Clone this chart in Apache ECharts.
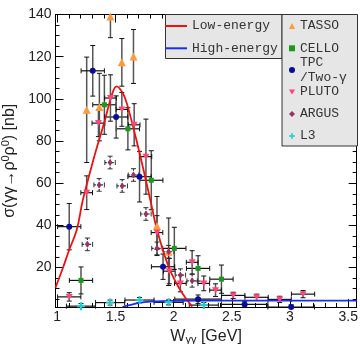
<!DOCTYPE html>
<html>
<head>
<meta charset="utf-8">
<script src="https://cdn.jsdelivr.net/npm/echarts@6/dist/echarts.min.js"></script>
<style>
  html, body { margin: 0; padding: 0; background: #fff; }
  #chart { width: 360px; height: 344px; }
</style>
</head>
<body>
<div id="chart"></div>
<script>
// each point: [W, sigma, dW, dSigma]
const tasso = [
  [1.253, 94.8, 0, 25], [1.362, 96.1, 0, 16], [1.457, 139, 0, 10],
  [1.555, 117.3, 0, 11.3], [1.655, 120.1, 0, 12.8], [1.857, 39.7, 0, 14],
  [1.957, 27.5, 0, 16]
];
const cello = [
  [1.204, 13.9, 0.1, 6.4], [1.405, 97.2, 0.1, 14], [1.607, 85.8, 0.1, 10],
  [1.808, 61.4, 0.1, 14], [2.006, 29.1, 0.1, 10], [2.21, 19.6, 0.1, 6],
  [2.411, 14.5, 0.1, 6.7]
];
const tpc = [
  [1.103, 39.4, 0.1, 11], [1.305, 113.3, 0.1, 12], [1.506, 91.4, 0.1, 10],
  [1.707, 63.1, 0.1, 12], [1.909, 20.4, 0.1, 6], [2.21, 5.0, 0.2, 2],
  [2.61, 2.5, 0.2, 1.5], [3.01, 1.3, 0.2, 1]
];
const pluto = [
  [1.103, 6.1, 0.1, 2], [1.253, 55.5, 0.05, 8], [1.354, 88.5, 0.055, 6.4],
  [1.457, 100.4, 0.05, 11], [1.555, 95.0, 0.05, 8], [1.661, 87.7, 0.05, 10],
  [1.762, 72.6, 0.05, 17.8], [1.857, 36.6, 0.05, 8], [1.963, 18.3, 0.05, 6],
  [2.058, 12.5, 0.05, 4], [2.159, 22.5, 0.05, 5.5], [2.259, 12.5, 0.05, 3.5],
  [2.36, 9.3, 0.05, 3], [2.512, 6.8, 0.1, 1.5], [2.713, 5.9, 0.1, 1.5],
  [2.911, 4.9, 0.1, 1.5], [3.112, 7.4, 0.1, 1.7]
];
const argus = [
  [1.259, 31.0, 0.045, 3], [1.36, 59.2, 0.045, 3], [1.454, 69.8, 0.045, 3],
  [1.558, 58.7, 0.045, 3], [1.655, 63.9, 0.045, 3], [1.762, 45.4, 0.045, 3],
  [1.857, 29.1, 0.045, 3], [1.957, 27.5, 0.045, 3], [2.058, 16.4, 0.045, 3],
  [2.159, 13.7, 0.045, 3]
];
const l3 = [
  [1.204, 1.7, 0.125, 1.2], [1.454, 3.4, 0.125, 1.2], [1.707, 4.6, 0.125, 1.2],
  [1.957, 3.5, 0.125, 1.2], [2.259, 2.2, 0.125, 1.2]
];

const lowEnergyW = [0.985, 1.05, 1.1, 1.167, 1.22, 1.31, 1.41, 1.47, 1.51, 1.56, 1.6, 1.7, 1.8, 1.857, 1.957, 2.05, 2.116, 2.16];
const lowEnergySigma = [10.5, 20, 28, 37.8, 52, 71, 90, 102, 105.9, 103, 97.5, 76, 52, 38, 20.4, 10, 4.6, 1.5];
const highEnergyW = [1.56, 1.6, 1.65, 1.7, 1.8, 1.9, 2.0, 2.2, 2.5, 3.0, 3.573];
const highEnergySigma = [1.3, 1.9, 2.6, 3.2, 3.8, 4.1, 4.2, 4.3, 4.3, 4.3, 4.3];

const xTicks = [1, 1.5, 2, 2.5, 3, 3.5];
const yTicks = [20, 40, 60, 80, 100, 120, 140];
const xMinorTicks = [];
for (let i = 10; i <= 35; i++) xMinorTicks.push(i / 10);
const yMinorTicks = [];
for (let v = 5; v <= 140; v += 5) yMinorTicks.push(v);

const xMin = 0.985, xMax = 3.573, yMin = 1.3, yMax = 140;

const sans = '"Liberation Sans", Arial, sans-serif';
const mono = '"Liberation Mono", "Courier New", monospace';

function errorBars(name, data, style) {
  return {
    type: 'custom',
    name: name + '-err',
    data: data,
    encode: { x: 0, y: 1 },
    z: 2,
    silent: true,
    renderItem: function (params, api) {
      const x = api.value(0), y = api.value(1);
      const dx = api.value(2), dy = api.value(3);
      const cy = v => Math.max(yMin, Math.min(yMax, v));
      const cx = v => Math.max(xMin, Math.min(xMax, v));
      const children = [];
      const cap = 2.5;
      if (dy > 0) {
        const top = api.coord([x, cy(y + dy)]);
        const bot = api.coord([x, cy(y - dy)]);
        const vs = { stroke: style.vColor, lineWidth: style.vWidth, lineDash: style.dash };
        children.push({ type: 'line', shape: { x1: top[0], y1: top[1], x2: bot[0], y2: bot[1] }, style: vs });
        if (y + dy < yMax) children.push({ type: 'line', shape: { x1: top[0] - cap, y1: top[1], x2: top[0] + cap, y2: top[1] }, style: { stroke: style.hColor, lineWidth: 1 } });
        if (y - dy > yMin) children.push({ type: 'line', shape: { x1: bot[0] - cap, y1: bot[1], x2: bot[0] + cap, y2: bot[1] }, style: { stroke: style.hColor, lineWidth: 1 } });
      }
      if (dx > 0 && y >= yMin && y <= yMax) {
        const l = api.coord([cx(x - dx), y]);
        const r = api.coord([cx(x + dx), y]);
        const hs = { stroke: style.hColor, lineWidth: style.hWidth, lineDash: style.dash };
        children.push({ type: 'line', shape: { x1: l[0], y1: l[1], x2: r[0], y2: r[1] }, style: hs });
        if (x - dx > xMin) children.push({ type: 'line', shape: { x1: l[0], y1: l[1] - cap, x2: l[0], y2: l[1] + cap }, style: { stroke: style.hColor, lineWidth: 1 } });
        if (x + dx < xMax) children.push({ type: 'line', shape: { x1: r[0], y1: r[1] - cap, x2: r[0], y2: r[1] + cap }, style: { stroke: style.hColor, lineWidth: 1 } });
      }
      return { type: 'group', children: children };
    }
  };
}

const solid = { vColor: '#555', vWidth: 1.5, hColor: '#111', hWidth: 1.2, dash: null };
const dotted = { vColor: '#333', vWidth: 1.2, hColor: '#333', hWidth: 1.2, dash: [2, 1.5] };

function points(name, data, symbol, size, color) {
  return {
    type: 'scatter',
    name: name,
    data: data.map(p => [p[0], p[1]]),
    symbol: symbol,
    symbolSize: size,
    itemStyle: { color: color, opacity: 1 },
    z: 4
  };
}

const downTriangle = 'path://M0,0L10,0L5,8.5Z';
const plus = 'path://M3,0H5V3H8V5H5V8H3V5H0V3H3Z';

const chart = echarts.init(document.getElementById('chart'), null, { renderer: 'canvas' });

const gridBox = { left: 55.5, right: 3.3, top: 14.5, bottom: 37, outerBoundsMode: 'none', containLabel: false };
const frame = { show: true, onZero: false, lineStyle: { color: '#000', width: 1 } };

function xAx(gridIndex, position, ticks, len, line) {
  return {
    type: 'value', gridIndex: gridIndex, position: position, min: xMin, max: xMax,
    axisLine: line ? frame : { show: false },
    axisTick: { show: true, inside: true, length: len, customValues: ticks, lineStyle: { color: '#000', width: 1 } },
    axisLabel: { show: false }, splitLine: { show: false }
  };
}
function yAx(gridIndex, position, ticks, len, line) {
  return {
    type: 'value', gridIndex: gridIndex, position: position, min: yMin, max: yMax,
    axisLine: line ? frame : { show: false },
    axisTick: { show: true, inside: true, length: len, customValues: ticks, lineStyle: { color: '#000', width: 1 } },
    axisLabel: { show: false }, splitLine: { show: false }
  };
}

const xMain = xAx(0, 'bottom', xTicks, 8, true);
xMain.axisLabel = { show: true, customValues: xTicks, fontSize: 14, color: '#222', fontFamily: sans, margin: 3, formatter: v => String(v) };
xMain.name = '{w|W}{s|γγ}{w| [GeV]}';
xMain.nameLocation = 'middle';
xMain.nameGap = 17;
xMain.nameTextStyle = {
  fontSize: 16, color: '#222', fontFamily: sans,
  rich: {
    w: { fontSize: 16, lineHeight: 18, fontFamily: sans, color: '#222' },
    s: { fontSize: 11, lineHeight: 11, verticalAlign: 'bottom', fontFamily: sans, color: '#222' }
  }
};

const yMain = yAx(0, 'left', yTicks, 8, true);
yMain.axisLabel = { show: true, customValues: yTicks, fontSize: 14, color: '#222', fontFamily: sans, margin: 4 };
yMain.name = '{a|σ(γγ→ρ}{s|0}{a|ρ}{s|0}{a|) [nb]}';
yMain.nameLocation = 'middle';
yMain.nameGap = 32;
yMain.nameRotate = 90;
yMain.nameTextStyle = {
  fontSize: 16, color: '#222', fontFamily: sans,
  rich: {
    a: { fontSize: 16, lineHeight: 18, fontFamily: sans, color: '#222' },
    s: { fontSize: 11, lineHeight: 11, verticalAlign: 'top', fontFamily: sans, color: '#222' }
  }
};

const legendText = { fontFamily: mono, fontSize: 13, color: '#333', lineHeight: 14 };

const option = {
  animation: false,
  backgroundColor: '#fff',
  grid: [0, 1, 2, 3].map(() => Object.assign({}, gridBox)),
  xAxis: [
    xMain,
    xAx(1, 'bottom', xMinorTicks, 4, false),
    xAx(2, 'top', xTicks, 8, true),
    xAx(3, 'top', xMinorTicks, 4, false)
  ],
  yAxis: [
    yMain,
    yAx(1, 'left', yMinorTicks, 4, false),
    yAx(2, 'right', yTicks, 8, true),
    yAx(3, 'right', yMinorTicks, 4, false)
  ],
  graphic: [
    { type: 'rect', z: 3, shape: { x: 165.5, y: 14.5, width: 116.5, height: 44 }, style: { fill: '#e6e6e6', stroke: '#333', lineWidth: 1 } },
    { type: 'rect', z: 3, shape: { x: 282, y: 14.5, width: 75.5, height: 131.5 }, style: { fill: '#e6e6e6', stroke: '#333', lineWidth: 1 } }
  ],
  legend: [
    { data: ['Low-energy', 'High-energy'], icon: 'rect', orient: 'vertical', left: 165, top: 19, padding: 0, itemGap: 8.3, itemWidth: 22, itemHeight: 2, textStyle: legendText, z: 5 },
    { data: ['TASSO', 'CELLO'], orient: 'vertical', left: 289, top: 19, padding: 0, itemGap: 8.3, itemWidth: 6, itemHeight: 6, textStyle: legendText, z: 5 },
    { data: ['TPC\n/Two-γ'], orient: 'vertical', left: 289, top: 55, padding: 0, itemWidth: 6, itemHeight: 6, textStyle: Object.assign({}, legendText, { lineHeight: 15 }), z: 5 },
    { data: ['PLUTO', 'ARGUS', 'L3'], orient: 'vertical', left: 289, top: 85, padding: 0, itemGap: 8, itemWidth: 6, itemHeight: 6, textStyle: legendText, z: 5 }
  ],
  series: [
    errorBars('TASSO', tasso, solid),
    errorBars('CELLO', cello, solid),
    errorBars('TPC', tpc, solid),
    errorBars('PLUTO', pluto, solid),
    errorBars('ARGUS', argus, dotted),
    errorBars('L3', l3, solid),
    {
      type: 'line', name: 'Low-energy', data: lowEnergyW.map((w, i) => [w, lowEnergySigma[i]]),
      smooth: 0.4, symbol: 'none', lineStyle: { color: '#ee1111', width: 1.8 }, itemStyle: { color: '#ee1111' }, z: 3, clip: true
    },
    {
      type: 'line', name: 'High-energy', data: highEnergyW.map((w, i) => [w, highEnergySigma[i]]),
      smooth: 0.4, symbol: 'none', lineStyle: { color: '#1a2ef0', width: 1.8 }, itemStyle: { color: '#1a2ef0' }, z: 3, clip: true
    },
    points('TASSO', tasso, 'triangle', 8, '#ff9a3c'),
    points('CELLO', cello, 'rect', 5, '#1a9a1a'),
    points('TPC\n/Two-γ', tpc, 'circle', 6, '#0b0b99'),
    points('PLUTO', pluto, downTriangle, [7, 6], '#ff4477'),
    points('ARGUS', argus, 'diamond', [5, 7], '#993366'),
    points('L3', l3, plus, 8, '#22cccc')
  ]
};

chart.setOption(option);
</script>
</body>
</html>
